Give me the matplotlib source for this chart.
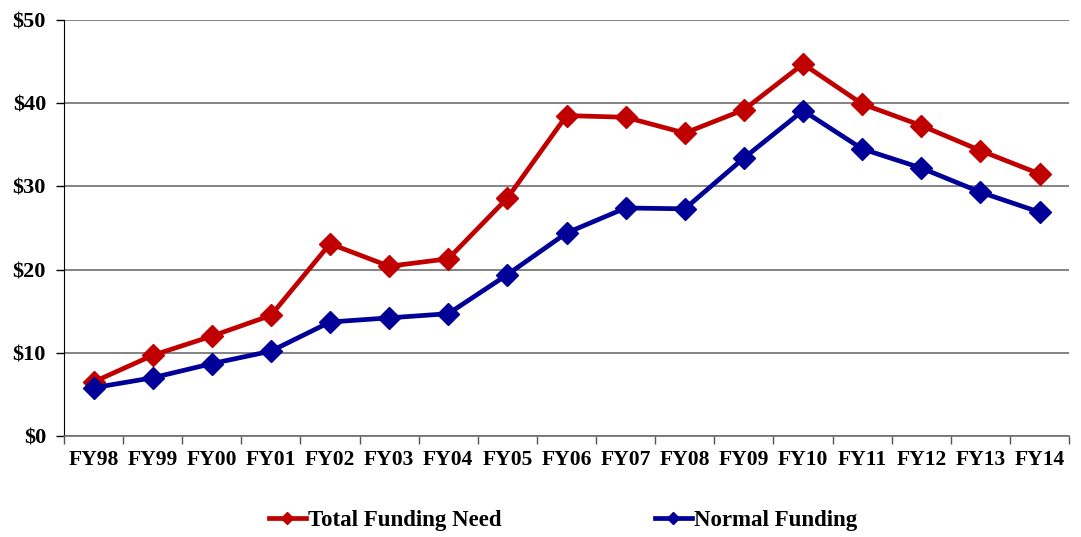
import matplotlib
matplotlib.use("Agg")
import matplotlib.pyplot as plt
import numpy as np

years = ['FY98', 'FY99', 'FY00', 'FY01', 'FY02', 'FY03', 'FY04', 'FY05', 'FY06',
         'FY07', 'FY08', 'FY09', 'FY10', 'FY11', 'FY12', 'FY13', 'FY14']
total_need = [6.5, 9.7, 12.0, 14.5, 23.1, 20.4, 21.3, 28.6, 38.5,
              38.3, 36.4, 39.2, 44.7, 39.9, 37.3, 34.3, 31.5]
normal_funding = [5.8, 7.0, 8.7, 10.2, 13.7, 14.2, 14.7, 19.4, 24.4,
                  27.4, 27.3, 33.4, 39.1, 34.5, 32.2, 29.3, 26.9]

plt.rcParams['font.family'] = ['Liberation Serif', 'DejaVu Serif']
plt.rcParams['font.weight'] = 'bold'

fig = plt.figure(figsize=(10.81, 5.37), dpi=100)
ax = fig.add_axes([0.0592, 0.188, 0.9298, 0.775])

ind = np.arange(len(years))
ax.plot(ind, total_need, color='#C00000', lw=3.4, marker='D', ms=11,
        label='Total Funding Need')
ax.plot(ind, normal_funding, color='#000099', lw=3.4, marker='D', ms=11,
        label='Normal Funding')

ax.set_xlim(-0.5, len(years) - 0.5)
ax.set_ylim(0, 50)
ax.set_yticks([0, 10, 20, 30, 40, 50])
ax.set_yticklabels(['$0', '$10', '$20', '$30', '$40', '$50'])
ax.yaxis.grid(True, color='#6e6e6e', lw=1.2)
ax.set_axisbelow(True)

ax.set_xticks(ind)
ax.set_xticklabels(years)
ax.set_xticks(np.arange(-0.5, len(years)), minor=True)
ax.tick_params(axis='x', which='major', length=0, pad=10, labelsize=15.5)
ax.tick_params(axis='x', which='minor', length=6, width=1, color='#555555')
ax.tick_params(axis='y', length=6, width=1, pad=7, labelsize=16)

for s in ['top', 'right']:
    ax.spines[s].set_visible(False)
ax.spines['bottom'].set_color('#6e6e6e')
ax.spines['bottom'].set_linewidth(1.2)
ax.spines['left'].set_color('black')

ax.legend(loc='center', bbox_to_anchor=(0.521, 0.03), bbox_transform=fig.transFigure,
          ncol=2, frameon=False, fontsize=16.5, handlelength=1.6, handletextpad=0.1,
          columnspacing=6.7, markerscale=0.6, borderpad=0)

fig.savefig('out.png', dpi=100)
